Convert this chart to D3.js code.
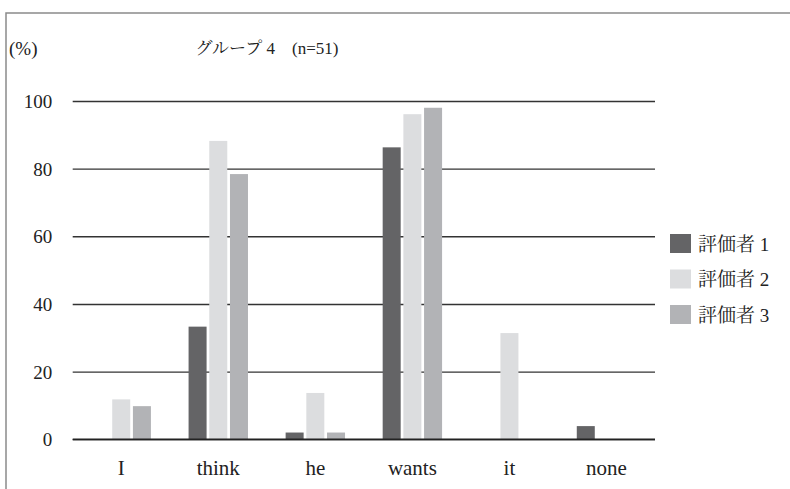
<!DOCTYPE html>
<html>
<head>
<meta charset="utf-8">
<script src="https://cdn.jsdelivr.net/npm/d3@7"></script>
<style>
  html, body { margin: 0; padding: 0; background: #fff; }
  svg { display: block; }
</style>
</head>
<body>
<svg id="chart" width="790" height="489"></svg>
<script>
// Word categories and the share (%) of 51 responses each rater marked
const categories = ["I", "think", "he", "wants", "it", "none"];
const seriesNames = ["評価者 1", "評価者 2", "評価者 3"];
const rater1 = [0, 33.3, 2.0, 86.3, 0, 3.9];
const rater2 = [11.8, 88.2, 13.7, 96.1, 31.4, 0];
const rater3 = [9.8, 78.4, 2.0, 98.0, 0, 0];
const yTicks = [0, 20, 40, 60, 80, 100];
const colors = ["#646466", "#dcdddf", "#b2b3b6"];

const FONT = "'Liberation Serif', 'Noto Serif CJK JP', serif";
const series = [rater1, rater2, rater3];
const svg = d3.select("#chart");

// outer frame (continues past the right and bottom edges)
svg.append("rect")
  .attr("x", 6).attr("y", 13).attr("width", 820).attr("height", 520)
  .attr("fill", "none").attr("stroke", "#8a8a8a").attr("stroke-width", 1.5);

const plot = { left: 72.7, right: 655, top: 101, bottom: 439.3 };

const x0 = d3.scaleBand().domain(categories)
  .range([plot.left, plot.right]).paddingInner(0.388).paddingOuter(0.194);
const x1 = d3.scaleBand().domain(d3.range(series.length))
  .range([0, x0.bandwidth()]).paddingInner(0.13).paddingOuter(0);
const y = d3.scaleLinear().domain([0, 100]).range([plot.bottom, plot.top]);

// horizontal gridlines + y tick labels
const yAxis = d3.axisLeft(y).tickValues(yTicks).tickSize(0).tickPadding(0);
const gy = svg.append("g").attr("transform", `translate(${plot.left},0)`).call(yAxis);
gy.select(".domain").remove();
gy.selectAll(".tick text")
  .attr("x", -20.5).attr("dy", "0.34em")
  .attr("text-anchor", "end").attr("fill", "#222")
  .style("font-family", FONT).style("font-size", "19px");
gy.selectAll(".tick").append("line")
  .attr("x1", 0).attr("x2", plot.right - plot.left)
  .attr("stroke", "#333").attr("stroke-width", 1.4);

// bars
categories.forEach((c, i) => {
  series.forEach((s, k) => {
    const v = s[i];
    if (v <= 0) return;
    svg.append("rect")
      .attr("x", x0(c) + x1(k))
      .attr("y", y(v))
      .attr("width", x1.bandwidth())
      .attr("height", y(0) - y(v))
      .attr("fill", colors[k]);
  });
});

// baseline drawn over the bars
svg.append("line")
  .attr("x1", plot.left).attr("x2", plot.right)
  .attr("y1", y(0)).attr("y2", y(0))
  .attr("stroke", "#222").attr("stroke-width", 1.6);

// category labels
const xAxis = d3.axisBottom(x0).tickSize(0).tickPadding(0);
const gx = svg.append("g").attr("transform", `translate(0,${plot.bottom})`).call(xAxis);
gx.select(".domain").remove();
gx.selectAll(".tick text")
  .attr("y", 35.5).attr("dy", 0).attr("fill", "#222")
  .style("font-family", FONT).style("font-size", "21px");

// title and unit
svg.append("text").attr("x", 267).attr("y", 54)
  .attr("text-anchor", "middle").attr("fill", "#222")
  .style("font-family", FONT).style("font-size", "17px")
  .text("グループ 4　(n=51)");
svg.append("text").attr("x", 9).attr("y", 55)
  .attr("fill", "#222")
  .style("font-family", FONT).style("font-size", "19px")
  .text("(%)");

// legend
const legend = svg.append("g");
seriesNames.forEach((name, k) => {
  const ly = 234 + k * 35.5;
  legend.append("rect").attr("x", 670).attr("y", ly)
    .attr("width", 21).attr("height", 19).attr("fill", colors[k]);
  legend.append("text").attr("x", 698).attr("y", ly + 16.5)
    .attr("fill", "#222")
    .style("font-family", FONT).style("font-size", "19px")
    .text(name);
});
</script>
</body>
</html>
